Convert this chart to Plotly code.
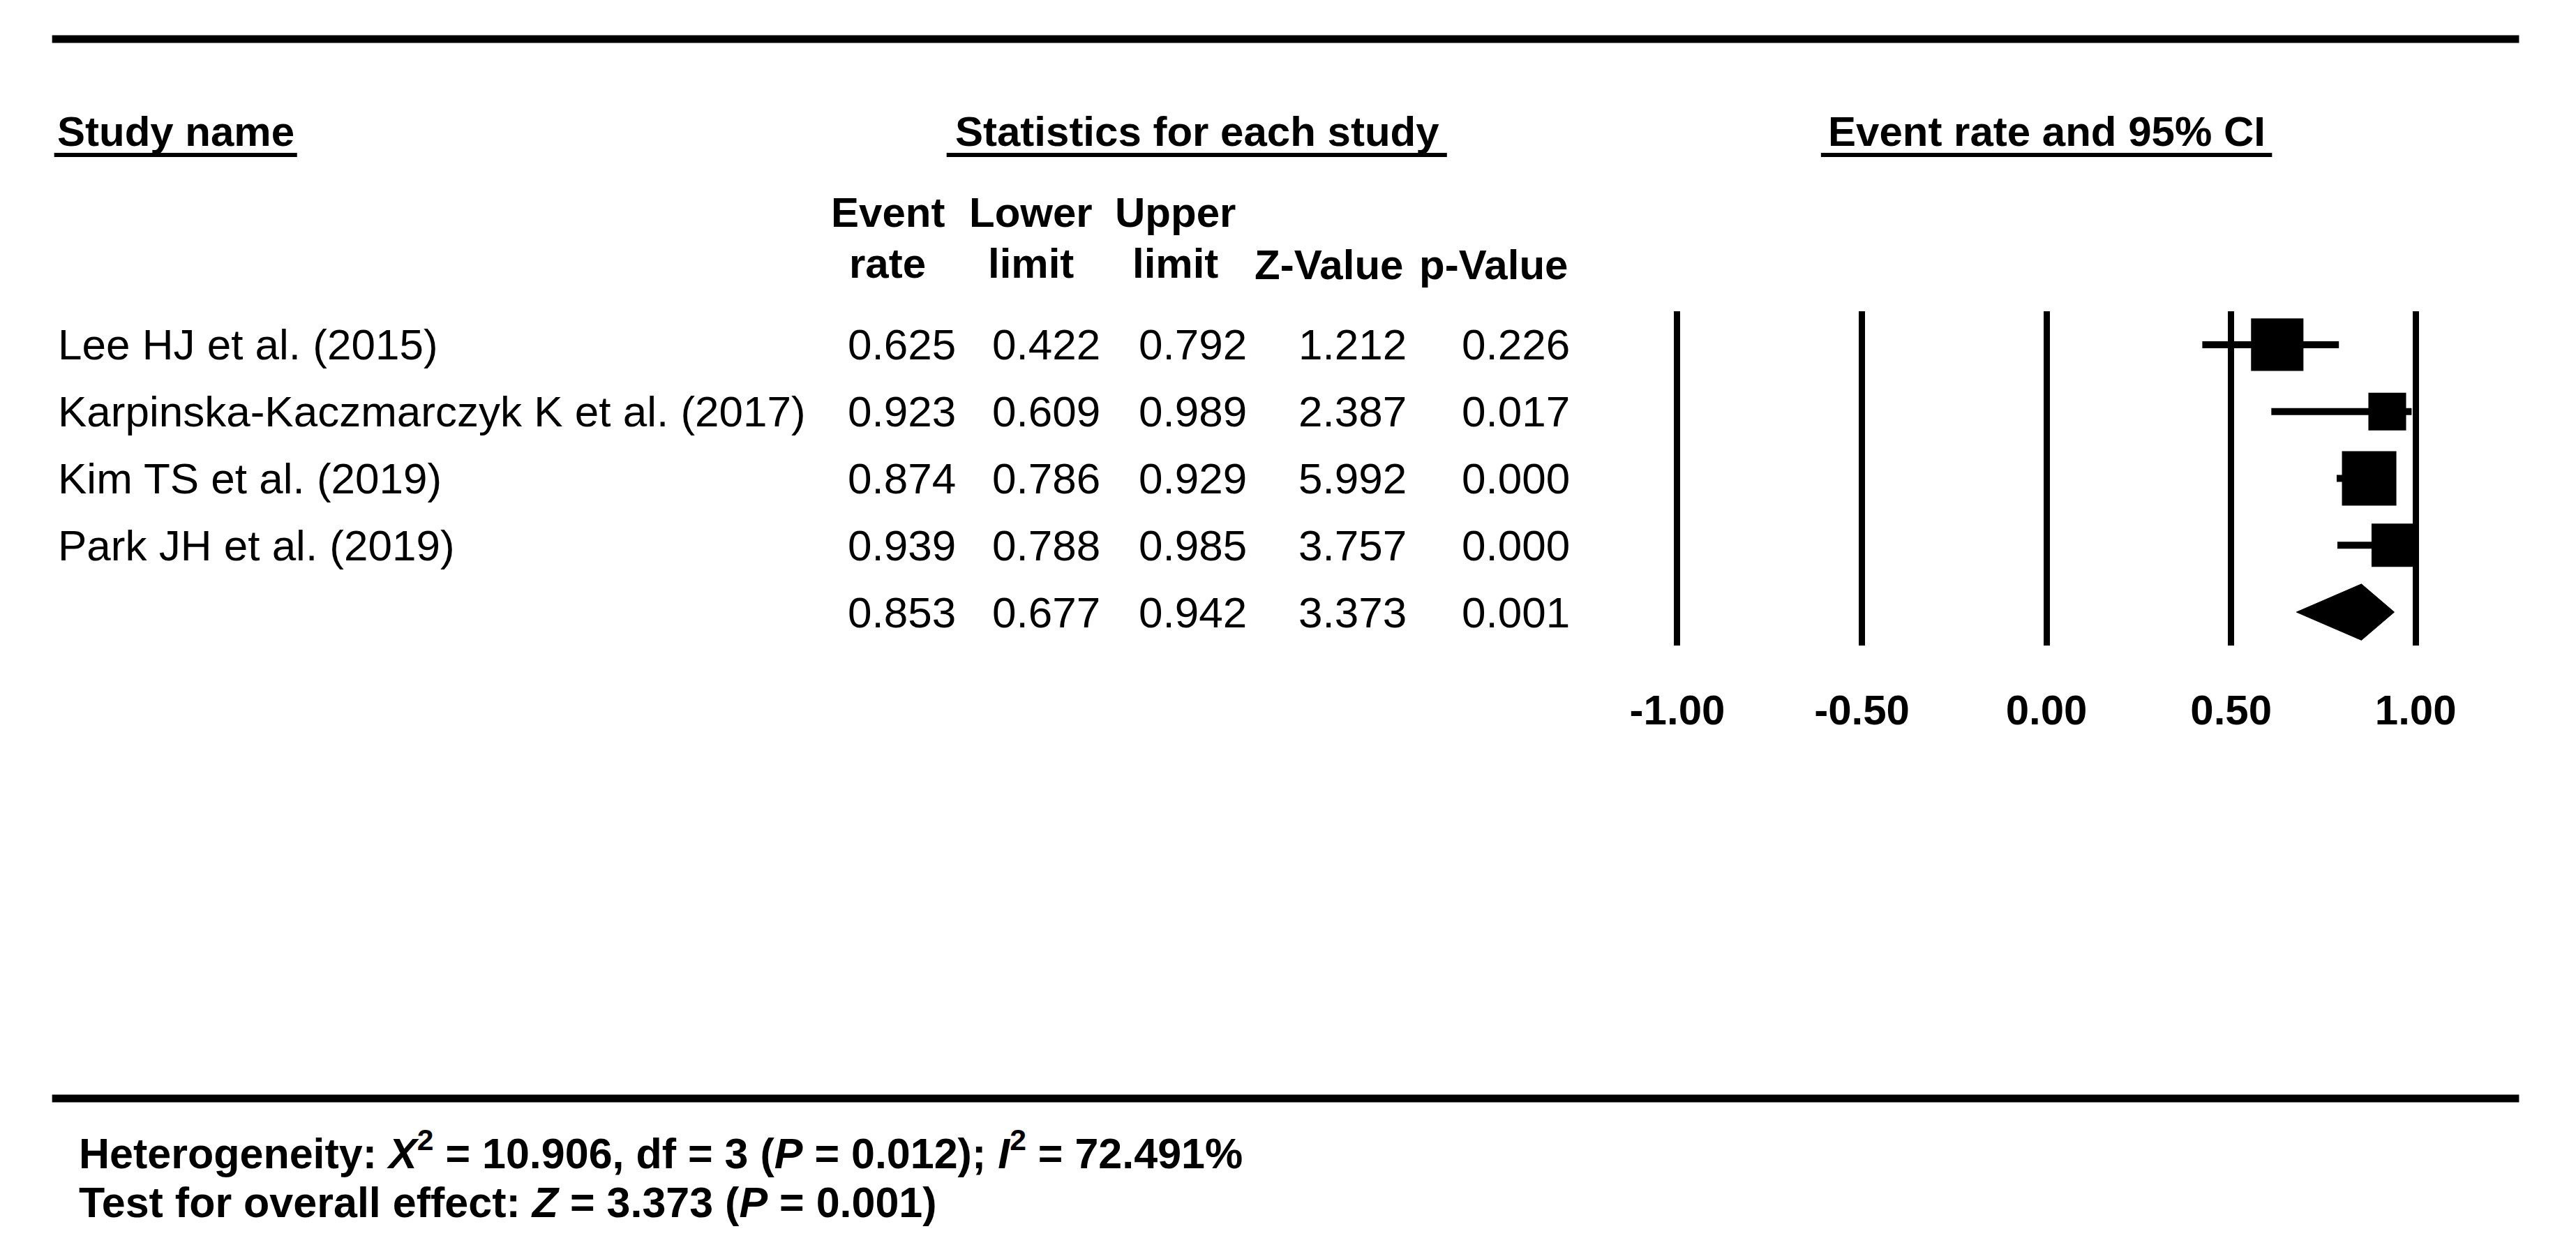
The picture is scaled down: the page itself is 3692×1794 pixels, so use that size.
import plotly.graph_objects as go

# ---------------- data ----------------
studies = ["Lee HJ et al. (2015)", "Karpinska-Kaczmarczyk K et al. (2017)",
           "Kim TS et al. (2019)", "Park JH et al. (2019)"]
event_rate = [0.625, 0.923, 0.874, 0.939]
lower_limit = [0.422, 0.609, 0.786, 0.788]
upper_limit = [0.792, 0.989, 0.929, 0.985]
z_value = [1.212, 2.387, 5.992, 3.757]
p_value = [0.226, 0.017, 0.000, 0.000]
rel_weight = [30.5, 15.8, 32.9, 20.8]   # relative weights (%), drive square size

summary_rate = 0.853
summary_lower = 0.677
summary_upper = 0.942
summary_z = 3.373
summary_p = 0.001

tick_vals = [-1.0, -0.5, 0.0, 0.5, 1.0]
tick_text = ["-1.00", "-0.50", "0.00", "0.50", "1.00"]

het_chi2 = 10.906
het_df = 3
het_p = 0.012
het_i2 = 72.491

# ---------------- layout helpers ----------------
W, H = 3692, 1794
FONT = "Liberation Sans, Arial, sans-serif"


def px(x):
    return x / W


def py(y):
    return 1 - y / H


rows = list(range(1, len(studies) + 1))
summary_row = len(studies) + 1

fig = go.Figure()

# study squares with CI bars
sizes = [13.6 * (w ** 0.5) for w in rel_weight]
fig.add_trace(go.Scatter(
    x=event_rate, y=rows, mode="markers",
    marker=dict(symbol="square", size=sizes, color="black", opacity=1,
                line=dict(width=0)),
    error_x=dict(type="data", symmetric=False,
                 array=[u - e for u, e in zip(upper_limit, event_rate)],
                 arrayminus=[e - l for e, l in zip(event_rate, lower_limit)],
                 color="black", thickness=10, width=0),
    showlegend=False, hoverinfo="skip",
))

# summary diamond
half_h = 0.42
fig.add_trace(go.Scatter(
    x=[summary_lower, summary_rate, summary_upper, summary_rate, summary_lower],
    y=[summary_row, summary_row - half_h, summary_row, summary_row + half_h, summary_row],
    mode="lines", fill="toself", fillcolor="black",
    line=dict(color="black", width=1),
    showlegend=False, hoverinfo="skip",
))

# axes: x maps -1 -> 2402 px, 1 -> 3466 px
ppu = (3466 - 2402) / 2.0
pad = 0.1
x0 = 2402 - pad * ppu
x1 = 3466 + pad * ppu
fig.update_xaxes(
    domain=[px(x0), px(x1)], range=[-1 - pad, 1 + pad],
    tickvals=tick_vals, ticktext=[f"<b>{t}</b>" for t in tick_text],
    tickfont=dict(family=FONT, size=60, color="black"),
    showgrid=True, gridcolor="black", gridwidth=9,
    zeroline=False, showline=False, ticks="", ticklabelstandoff=52,
    fixedrange=True,
)
fig.update_yaxes(
    domain=[py(925), py(446)], range=[summary_row + 0.5, 0.5],
    visible=False, showgrid=False, zeroline=False, fixedrange=True,
)

ann = []


def text(x, y, s, size=62, anchor="left", yref="paper"):
    ann.append(dict(x=px(x), y=(py(y) if yref == "paper" else y), xref="paper", yref=yref,
                    text=s, showarrow=False, xanchor=anchor, yanchor="middle",
                    font=dict(family=FONT, size=size, color="black")))


# section headers
text(65, 188, "<b>Study name</b>", 60)
text(1710, 188, "<b>Statistics for each study</b>", 60, "center")
text(2934, 188, "<b>Event rate and 95% CI</b>", 60, "center")

# column headers
col_center = [1264, 1470, 1679, 1900, 2137]
text(col_center[0], 305, "<b>Event</b>", 60, "center")
text(col_center[1], 305, "<b>Lower</b>", 60, "center")
text(col_center[2], 305, "<b>Upper</b>", 60, "center")
text(col_center[0], 377, "<b>rate</b>", 60, "center")
text(col_center[1], 377, "<b>limit</b>", 60, "center")
text(col_center[2], 377, "<b>limit</b>", 60, "center")
text(col_center[3], 379, "<b>Z-Value</b>", 60, "center")
text(col_center[4], 379, "<b>p-Value</b>", 60, "center")

# table rows
col_right = [1364, 1573, 1784, 2014, 2249]
for i, r in enumerate(rows):
    text(66, r, studies[i], 62, "left", yref="y")
    vals = [event_rate[i], lower_limit[i], upper_limit[i], z_value[i], p_value[i]]
    for cx, v in zip(col_right, vals):
        text(cx, r, f"{v:.3f}", 62, "right", yref="y")
svals = [summary_rate, summary_lower, summary_upper, summary_z, summary_p]
for cx, v in zip(col_right, svals):
    text(cx, summary_row, f"{v:.3f}", 62, "right", yref="y")

# footnote
text(97, 1648,
     f"<b>Heterogeneity: <i>X</i><sup>2</sup> = {het_chi2:.3f}, df = {het_df} "
     f"(<i>P</i> = {het_p:.3f}); <i>I</i><sup>2</sup> = {het_i2:.3f}%</b>", 61)
text(97, 1723,
     f"<b>Test for overall effect: <i>Z</i> = {summary_z:.3f} (<i>P</i> = {summary_p:.3f})</b>", 61)

shapes = []


def hline(xa, xb, y, w):
    shapes.append(dict(type="line", xref="paper", yref="paper",
                       x0=px(xa), x1=px(xb), y0=py(y), y1=py(y),
                       line=dict(color="black", width=w)))


hline(60, 3615, 56, 11)
hline(60, 3615, 1574, 11)
hline(63, 413, 222, 6)
hline(1349, 2070, 222, 6)
hline(2609, 3259, 222, 6)

fig.update_layout(
    width=W, height=H, margin=dict(l=0, r=0, t=0, b=0),
    paper_bgcolor="white", plot_bgcolor="white",
    annotations=ann, shapes=shapes, showlegend=False,
)

fig.write_html("out.html",
               config={"displayModeBar": False, "staticPlot": True},
               post_script="document.body.style.margin='0';"
                           "document.body.style.overflow='hidden';")
